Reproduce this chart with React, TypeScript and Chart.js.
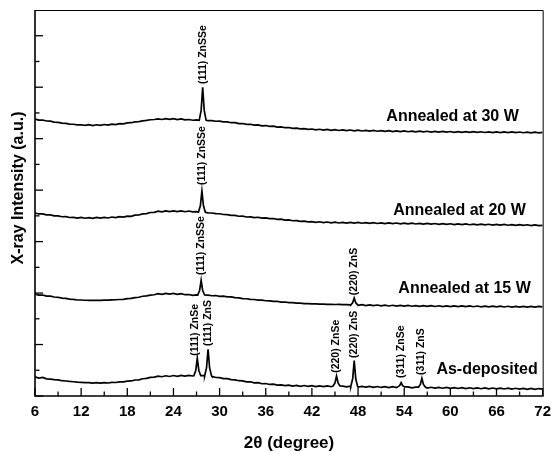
import React, { useEffect, useRef } from "react";
import { Chart, registerables } from "chart.js";

Chart.register(...registerables);

// 2θ sampling: 6° .. 72° every 0.5°
const thetaStart = 6;
const thetaStep = 0.5;

const asDeposited = [
  0.371, 0.349, 0.360, 0.334, 0.329, 0.318, 0.313, 0.297, 0.292, 0.283,
  0.277, 0.270, 0.266, 0.259, 0.261, 0.251, 0.258, 0.249, 0.261, 0.253,
  0.266, 0.262, 0.273, 0.276, 0.288, 0.292, 0.311, 0.313, 0.335, 0.342,
  0.362, 0.367, 0.385, 0.374, 0.393, 0.379, 0.398, 0.382, 0.401, 0.385,
  0.399, 0.389, 0.395, 0.401, 0.398, 0.392, 0.383, 0.359, 0.357, 0.338,
  0.336, 0.317, 0.313, 0.297, 0.295, 0.274, 0.277, 0.254, 0.261, 0.238,
  0.243, 0.224, 0.229, 0.210, 0.217, 0.201, 0.212, 0.194, 0.207, 0.189,
  0.204, 0.186, 0.201, 0.183, 0.198, 0.181, 0.196, 0.180, 0.194, 0.179,
  0.193, 0.176, 0.191, 0.183, 0.173, 0.188, 0.171, 0.186, 0.169, 0.184,
  0.166, 0.181, 0.164, 0.180, 0.162, 0.177, 0.161, 0.176, 0.159, 0.174,
  0.158, 0.173, 0.155, 0.170, 0.153, 0.168, 0.151, 0.166, 0.149, 0.163,
  0.146, 0.162, 0.144, 0.160, 0.143, 0.158, 0.141, 0.156, 0.139, 0.155,
  0.138, 0.153, 0.136, 0.151, 0.134, 0.150, 0.133, 0.148, 0.131, 0.147,
  0.130, 0.145, 0.134,
];

const annealed15 = [
  1.981, 1.960, 1.962, 1.940, 1.940, 1.924, 1.918, 1.901, 1.897, 1.882,
  1.876, 1.865, 1.865, 1.860, 1.859, 1.857, 1.857, 1.858, 1.861, 1.862,
  1.866, 1.870, 1.875, 1.879, 1.891, 1.897, 1.912, 1.919, 1.938, 1.944,
  1.960, 1.967, 1.988, 1.975, 1.995, 1.979, 1.993, 1.974, 1.990, 1.968,
  1.972, 1.957, 1.966, 1.962, 1.959, 1.961, 1.948, 1.952, 1.937, 1.940,
  1.925, 1.925, 1.910, 1.908, 1.893, 1.890, 1.878, 1.875, 1.862, 1.862,
  1.851, 1.850, 1.838, 1.837, 1.825, 1.826, 1.814, 1.815, 1.804, 1.805,
  1.795, 1.796, 1.790, 1.791, 1.786, 1.786, 1.782, 1.782, 1.778, 1.779,
  1.775, 1.776, 1.772, 1.771, 1.761, 1.774, 1.758, 1.771, 1.755, 1.768,
  1.752, 1.765, 1.749, 1.763, 1.747, 1.761, 1.745, 1.759, 1.744, 1.757,
  1.742, 1.756, 1.741, 1.754, 1.739, 1.753, 1.738, 1.752, 1.737, 1.751,
  1.736, 1.750, 1.735, 1.749, 1.734, 1.748, 1.733, 1.747, 1.732, 1.746,
  1.731, 1.745, 1.730, 1.744, 1.729, 1.743, 1.728, 1.742, 1.727, 1.741,
  1.726, 1.740, 1.733,
];

const annealed20 = [
  3.556, 3.537, 3.537, 3.518, 3.518, 3.499, 3.500, 3.483, 3.485, 3.468,
  3.472, 3.457, 3.470, 3.454, 3.467, 3.453, 3.469, 3.455, 3.472, 3.459,
  3.478, 3.466, 3.485, 3.475, 3.494, 3.492, 3.513, 3.517, 3.538, 3.544,
  3.565, 3.569, 3.590, 3.577, 3.596, 3.582, 3.598, 3.581, 3.597, 3.580,
  3.594, 3.579, 3.583, 3.571, 3.575, 3.559, 3.556, 3.542, 3.541, 3.527,
  3.525, 3.510, 3.510, 3.493, 3.495, 3.478, 3.482, 3.467, 3.473, 3.458,
  3.462, 3.445, 3.448, 3.432, 3.435, 3.418, 3.422, 3.405, 3.409, 3.394,
  3.398, 3.382, 3.388, 3.373, 3.385, 3.369, 3.381, 3.365, 3.378, 3.362,
  3.375, 3.360, 3.373, 3.358, 3.372, 3.357, 3.370, 3.354, 3.367, 3.352,
  3.365, 3.350, 3.363, 3.348, 3.361, 3.346, 3.359, 3.344, 3.357, 3.342,
  3.355, 3.340, 3.353, 3.338, 3.351, 3.336, 3.349, 3.334, 3.347, 3.332,
  3.345, 3.330, 3.343, 3.328, 3.341, 3.326, 3.339, 3.324, 3.337, 3.322,
  3.335, 3.320, 3.333, 3.318, 3.331, 3.316, 3.329, 3.314, 3.327, 3.312,
  3.325, 3.310, 3.317,
];

const annealed30 = [
  5.382, 5.362, 5.363, 5.343, 5.340, 5.323, 5.318, 5.302, 5.297, 5.283,
  5.280, 5.267, 5.270, 5.258, 5.272, 5.255, 5.270, 5.257, 5.275, 5.263,
  5.283, 5.272, 5.292, 5.288, 5.307, 5.310, 5.326, 5.330, 5.347, 5.354,
  5.368, 5.372, 5.385, 5.373, 5.390, 5.375, 5.388, 5.371, 5.385, 5.367,
  5.372, 5.358, 5.366, 5.360, 5.357, 5.351, 5.352, 5.338, 5.340, 5.327,
  5.326, 5.310, 5.310, 5.293, 5.295, 5.277, 5.280, 5.263, 5.267, 5.250,
  5.255, 5.238, 5.242, 5.225, 5.230, 5.213, 5.217, 5.201, 5.206, 5.190,
  5.196, 5.181, 5.188, 5.172, 5.183, 5.167, 5.179, 5.163, 5.175, 5.159,
  5.171, 5.155, 5.168, 5.152, 5.165, 5.149, 5.162, 5.147, 5.160, 5.144,
  5.157, 5.142, 5.155, 5.139, 5.152, 5.137, 5.150, 5.135, 5.148, 5.133,
  5.146, 5.131, 5.144, 5.129, 5.142, 5.127, 5.140, 5.126, 5.139, 5.124,
  5.137, 5.123, 5.136, 5.122, 5.135, 5.121, 5.134, 5.120, 5.133, 5.119,
  5.132, 5.118, 5.131, 5.117, 5.130, 5.116, 5.129, 5.115, 5.128, 5.114,
  5.127, 5.113, 5.122,
];

// Diffraction peaks: position (2θ) and apex intensity
const peaksAsDepX = [27.1, 28.5, 45.2, 47.5, 53.6, 56.3];
const peaksAsDepTop = [0.733, 0.908, 0.389, 0.686, 0.259, 0.344];
const peaks15X = [27.6, 47.5];
const peaks15Top = [2.248, 1.904];
const peaks20X = [27.7];
const peaks20Top = [3.983];
const peaks30X = [27.8];
const peaks30Top = [5.998];

// peak profile (offset in degrees, fraction of peak height)
const peakOffsets = [-0.45, -0.2, 0, 0.2, 0.45];
const peakFractions = [0, 0.3, 1, 0.3, 0];

// sample names, anchored by right end / vertical middle (data units)
const sampleNames = ["Annealed at 30 W", "Annealed at 20 W", "Annealed at 15 W", "As-deposited"];
const sampleNameX = [68.9, 69.8, 70.46, 71.36];
const sampleNameY = [5.42, 3.61, 2.08, 0.52];

// reflection labels (rotated), anchored at text start (bottom)
const peakLabels = [
  "(111) ZnSSe", "(111) ZnSSe", "(111) ZnSSe", "(220) ZnS",
  "(111) ZnSe", "(111) ZnS", "(220) ZnSe", "(220) ZnS", "(311) ZnSe", "(311) ZnS",
];
const peakLabelX = [27.8, 27.7, 27.6, 47.5, 26.85, 28.55, 45.2, 47.5, 53.6, 56.2];
const peakLabelY = [6.06, 4.10, 2.35, 1.96, 0.78, 0.97, 0.45, 0.74, 0.35, 0.41];

const xMin = 6;
const xMax = 72;
const xMajorStep = 6;
const yMin = 0;
const yMax = 7.5;
const yMajorTicks = [0, 1, 2, 3, 4, 5, 6, 7];
const yMinorTicks = [0.5, 1.5, 2.5, 3.5, 4.5, 5.5, 6.5];

const xTitle = "2θ (degree)";
const yTitle = "X-ray Intensity (a.u.)";

const FONT = "'Liberation Sans', Arial, Helvetica, sans-serif";

function buildSeries(base: number[], px: number[], ptop: number[]) {
  const pts: { x: number; y: number }[] = [];
  base.forEach((y, i) => {
    const x = thetaStart + thetaStep * i;
    if (px.some((p) => Math.abs(x - p) < 0.45)) return;
    pts.push({ x, y });
  });
  px.forEach((p, k) => {
    const baseY = base[Math.round((p - thetaStart) / thetaStep)];
    peakOffsets.forEach((o, j) => {
      pts.push({ x: p + o, y: baseY + peakFractions[j] * (ptop[k] - baseY) });
    });
  });
  pts.sort((a, b) => a.x - b.x);
  return pts;
}

const decorPlugin = {
  id: "decor",
  afterDraw(chart: any) {
    const { ctx, chartArea, scales } = chart;
    const xs = scales.x;
    const ys = scales.y;
    const { left, right, top, bottom } = chartArea;
    ctx.save();
    ctx.strokeStyle = "#000";
    ctx.fillStyle = "#000";

    // frame
    ctx.lineWidth = 1;
    ctx.beginPath();
    ctx.moveTo(left, top + 0.5);
    ctx.lineTo(right + 0.5, top + 0.5);
    ctx.lineTo(right + 0.5, bottom);
    ctx.stroke();
    ctx.lineWidth = 1.6;
    ctx.beginPath();
    ctx.moveTo(left, top);
    ctx.lineTo(left, bottom);
    ctx.lineTo(right + 1, bottom);
    ctx.stroke();

    // inward ticks on x
    ctx.lineWidth = 1.3;
    xs.ticks.forEach((t: any) => {
      const v = t.value;
      const p = xs.getPixelForValue(v);
      ctx.beginPath();
      ctx.moveTo(p, bottom);
      ctx.lineTo(p, bottom - 8);
      ctx.stroke();
      const mv = v + xMajorStep / 2;
      if (mv < xMax) {
        const mp = xs.getPixelForValue(mv);
        ctx.beginPath();
        ctx.moveTo(mp, bottom);
        ctx.lineTo(mp, bottom - 4.5);
        ctx.stroke();
      }
    });
    // inward ticks on y
    yMajorTicks.forEach((v) => {
      const p = ys.getPixelForValue(v);
      ctx.beginPath();
      ctx.moveTo(left, p);
      ctx.lineTo(left + 8, p);
      ctx.stroke();
    });
    yMinorTicks.forEach((v) => {
      const p = ys.getPixelForValue(v);
      ctx.beginPath();
      ctx.moveTo(left, p);
      ctx.lineTo(left + 4.5, p);
      ctx.stroke();
    });

    // sample names
    ctx.font = `bold 16px ${FONT}`;
    ctx.textAlign = "right";
    ctx.textBaseline = "middle";
    sampleNames.forEach((s, i) => {
      ctx.fillText(s, xs.getPixelForValue(sampleNameX[i]), ys.getPixelForValue(sampleNameY[i]));
    });

    // peak labels
    ctx.font = `bold 10.5px ${FONT}`;
    ctx.textAlign = "left";
    ctx.textBaseline = "middle";
    peakLabels.forEach((s, i) => {
      ctx.save();
      ctx.translate(xs.getPixelForValue(peakLabelX[i]), ys.getPixelForValue(peakLabelY[i]));
      ctx.rotate(-Math.PI / 2);
      ctx.fillText(s, 0, 0);
      ctx.restore();
    });

    // axis titles
    ctx.font = `bold 17px ${FONT}`;
    ctx.textAlign = "center";
    ctx.textBaseline = "middle";
    ctx.fillText(xTitle, 289, 443);
    ctx.save();
    ctx.translate(19, 188);
    ctx.rotate(-Math.PI / 2);
    ctx.font = `bold 16px ${FONT}`;
    ctx.fillText(yTitle, 0, 0);
    ctx.restore();

    ctx.restore();
  },
};

export default function App() {
  const ref = useRef<HTMLCanvasElement | null>(null);
  useEffect(() => {
    if (!ref.current) return;
    const series = [
      buildSeries(asDeposited, peaksAsDepX, peaksAsDepTop),
      buildSeries(annealed15, peaks15X, peaks15Top),
      buildSeries(annealed20, peaks20X, peaks20Top),
      buildSeries(annealed30, peaks30X, peaks30Top),
    ];
    const chart = new Chart(ref.current, {
      type: "line",
      data: {
        datasets: series.map((d, i) => ({
          label: ["As-deposited", "15 W", "20 W", "30 W"][i],
          data: d,
          borderColor: "#000",
          borderWidth: 1.7,
          pointRadius: 0,
          tension: 0,
          fill: false,
        })),
      },
      options: {
        animation: false,
        responsive: false,
        events: [],
        layout: { autoPadding: false, padding: { left: 0, right: 9, top: 10, bottom: 0 } },
        plugins: { legend: { display: false }, tooltip: { enabled: false }, title: { display: false } },
        scales: {
          x: {
            type: "linear",
            min: xMin,
            max: xMax,
            grid: { display: false, drawTicks: false },
            border: { display: false },
            ticks: {
              stepSize: xMajorStep,
              color: "#000",
              padding: 7,
              maxRotation: 0,
              font: { family: FONT, size: 15, weight: "bold" },
            },
            afterFit: (s: any) => {
              s.height = 56;
            },
          },
          y: {
            type: "linear",
            min: yMin,
            max: yMax,
            grid: { display: false, drawTicks: false },
            border: { display: false },
            ticks: { display: false },
            afterFit: (s: any) => {
              s.width = 35;
            },
          },
        },
      },
      plugins: [decorPlugin],
    });
    return () => chart.destroy();
  }, []);
  return (
    <div style={{ position: "absolute", left: 0, top: 0, width: 558, height: 452, background: "#fff" }}>
      <canvas ref={ref} width={558} height={452} style={{ display: "block" }} />
    </div>
  );
}
